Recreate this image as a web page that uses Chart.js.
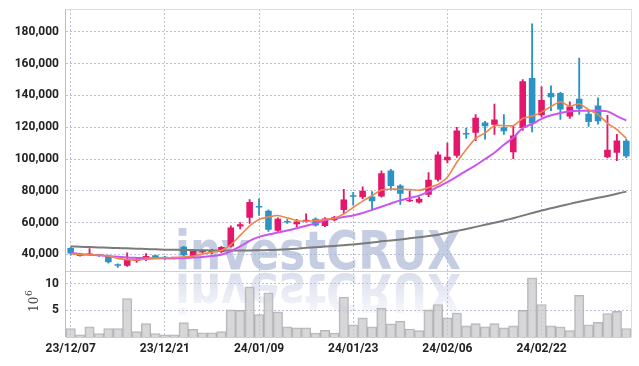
<!DOCTYPE html>
<html>
<head>
<meta charset="utf-8">
<script src="https://cdn.jsdelivr.net/npm/chart.js@4.4.1/dist/chart.umd.min.js"></script>
<style>
    body { margin: 0; background: #fff; }
    #wrap { width: 639px; height: 366px; }
</style>
</head>
<body>
<div id="wrap"><canvas id="mycanvas"></canvas></div>
<script>
var dates = [
    "23/12/07", "23/12/08", "23/12/11", "23/12/12", "23/12/13", "23/12/14", "23/12/15", "23/12/18", "23/12/19", "23/12/20",
    "23/12/21", "23/12/22", "23/12/26", "23/12/27", "23/12/28", "24/01/02", "24/01/03", "24/01/04", "24/01/05", "24/01/08",
    "24/01/09", "24/01/10", "24/01/11", "24/01/12", "24/01/15", "24/01/16", "24/01/17", "24/01/18", "24/01/19", "24/01/22",
    "24/01/23", "24/01/24", "24/01/25", "24/01/26", "24/01/29", "24/01/30", "24/01/31", "24/02/01", "24/02/02", "24/02/05",
    "24/02/06", "24/02/07", "24/02/08", "24/02/13", "24/02/14", "24/02/15", "24/02/16", "24/02/19", "24/02/20", "24/02/21",
    "24/02/22", "24/02/23", "24/02/26", "24/02/27", "24/02/28", "24/02/29", "24/03/04", "24/03/05", "24/03/06", "24/03/07"
];

var openArr = [
    44000, 39000, 39600, 39800, 39000, 33800, 32800, 35800, 36500, 39400,
    38000, 37500, 44800, 39000, 41300, 41500, 41500, 45000, 57500, 63000,
    70000, 67500, 54800, 60700, 59000, 60800, 62500, 57800, 61500, 68000,
    76800, 76000, 76500, 76500, 92800, 83300, 73500, 72600, 77500, 87000,
    99200, 102000, 116000, 116500, 123000, 121600, 120000, 104300, 119600, 151000,
    127500, 141500, 141500, 126800, 138000, 128500, 133700, 101200, 104000, 111500
];
var highArr = [
    44500, 39800, 43600, 40000, 39500, 34000, 41000, 38000, 40500, 39500,
    38800, 38000, 45000, 43000, 43000, 43200, 45000, 58000, 60000, 74500,
    75000, 68000, 63000, 62000, 62000, 65500, 63000, 63200, 64000, 81000,
    79000, 82500, 79500, 92500, 93500, 84000, 80000, 76000, 91500, 104500,
    110000, 120000, 119500, 128000, 123800, 134500, 128000, 120500, 150000, 185000,
    145500, 146000, 142000, 136000, 163500, 130500, 138500, 127500, 115500, 112500
];
var lowArr = [
    39500, 38900, 39300, 38800, 34500, 31800, 32500, 35000, 36000, 37500,
    36500, 37200, 39000, 38500, 40800, 40500, 41000, 44500, 56000, 59500,
    64500, 54500, 54500, 59500, 57500, 60200, 57800, 57500, 61000, 65500,
    71000, 75000, 67500, 76000, 80500, 71500, 73200, 72300, 76300, 86000,
    97500, 101000, 113000, 111500, 112500, 115500, 115500, 100300, 118000, 117000,
    126300, 130500, 125000, 125500, 128000, 120500, 122000, 100700, 99000, 100800
];
var closeArr = [
    40500, 39600, 39900, 39200, 35000, 32800, 37000, 36800, 39000, 37800,
    37500, 37900, 39600, 42500, 42300, 42400, 44700, 57000, 59000, 73000,
    69500, 55500, 62400, 60000, 60700, 61800, 58200, 62600, 63400, 74500,
    76300, 80000, 73500, 91000, 83000, 78200, 74400, 75000, 87000, 102800,
    101500, 118000, 115500, 126000, 120700, 124800, 117500, 114800, 149000, 122300,
    137200, 138800, 131200, 133000, 131700, 123300, 123800, 105900, 111600, 101800
];

// moving average lines
var maShort = [
    40400, 39800, 39800, 39600, 39000, 37500, 36700, 36500, 36900, 37500,
    37900, 37900, 38400, 39000, 40200, 41400, 42500, 46000, 52000, 58000,
    62000, 63500, 64500, 63000, 61200, 60900, 61300, 62000, 62800, 65500,
    69500, 73500, 77000, 80500, 81000, 81000, 80800, 80400, 82000, 84000,
    88500, 98000, 106000, 113000, 116500, 121000, 121000, 121000, 125500, 127000,
    129500, 133000, 136000, 133200, 134800, 131000, 128000, 122500, 118500, 113000
];
var maMid = [
    41000, 40300, 39800, 39500, 39000, 38500, 38000, 37800, 37700, 37600,
    37500, 37500, 37600, 38000, 38400, 39000, 39800, 42000, 45000, 48500,
    51000, 52500, 53800, 55000, 56500, 58000, 59500, 61500, 62500, 63500,
    64500, 66000, 68000, 70000, 72000, 74000, 75500, 77000, 79500, 82500,
    85500, 89000, 92500, 96000, 100000, 104000, 109000, 113500, 119500, 122000,
    125300, 127500, 129000, 130000, 130400, 130400, 130400, 130000, 127000, 124200
];
var maLong = [
    45000, 44800, 44600, 44400, 44200, 44000, 43800, 43600, 43400, 43200,
    43000, 42900, 42800, 42700, 42600, 42500, 42400, 42400, 42400, 42500,
    42600, 42700, 42900, 43200, 43600, 44100, 44500, 44900, 45300, 45800,
    46300, 46900, 47500, 48200, 48800, 49400, 50100, 50800, 51500, 52300,
    53600, 54800, 56000, 57300, 58600, 59900, 61300, 62800, 64400, 66000,
    67600, 69000, 70400, 71800, 73100, 74400, 75600, 76800, 78200, 79500
];

// volume in millions
var volumeArr = [
    1.6, 0.4, 1.9, 0.65, 1.6, 1.6, 7.2, 1.0, 2.5, 0.65,
    0.4, 0.4, 2.7, 1.45, 0.8, 0.8, 1.0, 5.1, 5.0, 9.4,
    4.2, 8.3, 4.7, 1.9, 1.7, 1.7, 0.75, 1.25, 0.75, 7.5,
    2.3, 3.6, 1.9, 5.4, 2.45, 2.95, 1.5, 1.2, 5.1, 6.1,
    3.6, 4.5, 2.1, 2.5, 1.9, 2.5, 1.7, 2.1, 5.0, 11.1,
    6.1, 2.1, 1.9, 1.2, 7.8, 2.3, 2.75, 4.4, 4.8, 1.6
];

var priceTicks = [40000, 60000, 80000, 100000, 120000, 140000, 160000, 180000];
var volumeTicks = [5, 10];

var UP = "#e4186a";
var DOWN = "#2c93c5";
var gridColor = "#bcc1d4";
var gridDash = [2, 2];
var tickFont = { family: "Roboto", size: 12, weight: "bold" };

var bodyData = [];
var wickData = [];
var candleColors = [];
for (var i in dates) {
    bodyData.push([openArr[i], closeArr[i]]);
    wickData.push([lowArr[i], highArr[i]]);
    candleColors.push(closeArr[i] >= openArr[i] ? UP : DOWN);
}

// keep the plot box where the reference has it
function fixY(axis) {
    axis.width = 66;
    axis.paddingTop = 0;
    axis.paddingBottom = 0;
}
function fixX(axis) {
    axis.height = 20;
    axis.paddingLeft = 0;
    axis.paddingRight = 0;
}

var overlay = {
    id: "overlay",
    beforeDatasetsDraw: function (chart) {
        var ctx = chart.ctx;
        var area = chart.chartArea;
        var split = chart.scales.y.bottom;
        var text = "investCRUX";
        ctx.save();
        ctx.beginPath();
        ctx.rect(area.left, area.top, area.right - area.left, area.bottom - area.top);
        ctx.clip();
        ctx.font = "bold 54px 'DejaVu Sans'";
        var w = ctx.measureText(text).width;
        var sx = 286 / w;
        var baseY = split - 2;
        // main text
        ctx.save();
        ctx.translate(175, baseY);
        ctx.scale(sx, 1);
        ctx.fillStyle = "rgba(170,181,214,0.68)";
        ctx.textBaseline = "alphabetic";
        ctx.fillText(text, 0, 0);
        ctx.restore();
        // reflection
        ctx.save();
        ctx.translate(175, split + 3);
        ctx.scale(sx, -1);
        var g = ctx.createLinearGradient(0, 0, 0, -40);
        g.addColorStop(0, "rgba(190,198,224,0.55)");
        g.addColorStop(1, "rgba(190,198,224,0.12)");
        ctx.fillStyle = g;
        ctx.fillText(text, 0, 0);
        ctx.restore();
        ctx.restore();
    },
    afterDraw: function (chart) {
        var ctx = chart.ctx;
        var area = chart.chartArea;
        var split = chart.scales.y.bottom;
        ctx.save();
        ctx.lineWidth = 1;
        ctx.strokeStyle = "#dcdcdc";
        ctx.beginPath();
        ctx.moveTo(area.left, area.top + 0.5);
        ctx.lineTo(area.right + 0.5, area.top + 0.5);
        ctx.lineTo(area.right + 0.5, area.bottom);
        ctx.stroke();
        ctx.strokeStyle = "#cfcfcf";
        ctx.beginPath();
        ctx.moveTo(area.left, Math.round(split) + 0.5);
        ctx.lineTo(area.right, Math.round(split) + 0.5);
        ctx.moveTo(area.left, area.bottom + 0.5);
        ctx.lineTo(area.right, area.bottom + 0.5);
        ctx.stroke();
        ctx.strokeStyle = "#bdbdbd";
        ctx.beginPath();
        ctx.moveTo(area.left - 0.5, area.top);
        ctx.lineTo(area.left - 0.5, area.bottom);
        ctx.stroke();
        // unit label of the volume axis
        ctx.translate(38, 312);
        ctx.rotate(-Math.PI / 2);
        ctx.fillStyle = "#444";
        ctx.font = "12px 'DejaVu Serif'";
        ctx.fillText("10", 0, 0);
        ctx.font = "9px 'DejaVu Serif'";
        ctx.fillText("6", 16, -6);
        ctx.restore();
    }
};

var ctx = document.getElementById("mycanvas");

var stockChart = new Chart(ctx, {
    type: "bar",
    data: {
        labels: dates,
        datasets: [{
            type: "line",
            label: "MA short",
            data: maShort,
            borderColor: "#f0854b",
            borderWidth: 1.6,
            pointRadius: 0,
            tension: 0.2,
            yAxisID: "y",
            order: 0
        }, {
            type: "line",
            label: "MA mid",
            data: maMid,
            borderColor: "#cc55ee",
            borderWidth: 2,
            pointRadius: 0,
            tension: 0.3,
            yAxisID: "y",
            order: 0
        }, {
            type: "line",
            label: "MA long",
            data: maLong,
            borderColor: "#7a7a7a",
            borderWidth: 2,
            pointRadius: 0,
            tension: 0.3,
            yAxisID: "y",
            order: 0
        }, {
            label: "Body",
            data: bodyData,
            backgroundColor: candleColors,
            barPercentage: 0.7,
            categoryPercentage: 1,
            minBarLength: 1.5,
            grouped: false,
            yAxisID: "y",
            order: 1
        }, {
            label: "Wick",
            data: wickData,
            backgroundColor: candleColors,
            barThickness: 1.2,
            grouped: false,
            yAxisID: "y",
            order: 2
        }, {
            label: "Volume",
            data: volumeArr,
            backgroundColor: "rgba(200,200,202,0.72)",
            borderColor: "rgba(165,165,168,0.8)",
            borderWidth: 1,
            barPercentage: 1,
            categoryPercentage: 1,
            grouped: false,
            yAxisID: "yVol",
            order: 3
        }]
    },
    options: {
        responsive: true,
        maintainAspectRatio: false,
        animation: false,
        layout: { autoPadding: false, padding: { left: 0, right: 8, top: 9, bottom: 9 } },
        plugins: {
            legend: { display: false },
            tooltip: { enabled: false }
        },
        scales: {
            x: {
                offset: true,
                afterFit: fixX,
                grid: {
                    offset: false,
                    drawTicks: false,
                    lineWidth: 1,
                    color: function (c) {
                        return c.index % 10 === 0 ? gridColor : "rgba(0,0,0,0)";
                    }
                },
                border: { display: false, dash: gridDash },
                ticks: {
                    autoSkip: false,
                    maxRotation: 0,
                    padding: 5,
                    color: "#222",
                    font: tickFont,
                    callback: function (v, i) {
                        return i % 10 === 0 ? dates[i] : "";
                    }
                }
            },
            yVol: {
                type: "linear",
                position: "left",
                stack: "panel",
                stackWeight: 1,
                min: 0,
                max: 12.3,
                afterFit: fixY,
                afterBuildTicks: function (axis) {
                    axis.ticks = volumeTicks.map(function (v) { return { value: v }; });
                },
                grid: { color: gridColor, lineWidth: 1, drawTicks: false },
                border: { display: false, dash: gridDash },
                ticks: { padding: 7, color: "#222", font: tickFont }
            },
            y: {
                type: "linear",
                position: "left",
                stack: "panel",
                stackWeight: 4,
                min: 29300,
                max: 194400,
                afterFit: fixY,
                afterBuildTicks: function (axis) {
                    axis.ticks = priceTicks.map(function (v) { return { value: v }; });
                },
                grid: { color: gridColor, lineWidth: 1, drawTicks: false },
                border: { display: false, dash: gridDash },
                ticks: {
                    padding: 7,
                    color: "#222",
                    font: tickFont,
                    callback: function (v) {
                        return v.toLocaleString("en-US");
                    }
                }
            }
        }
    },
    plugins: [overlay]
});
</script>
</body>
</html>
